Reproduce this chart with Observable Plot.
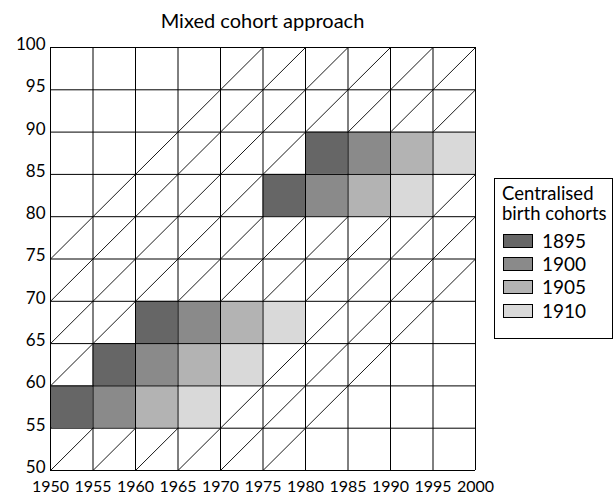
<!DOCTYPE html>
<html><head><meta charset="utf-8">
<script src="https://cdn.jsdelivr.net/npm/d3@7"></script>
<script src="https://cdn.jsdelivr.net/npm/@observablehq/plot@0.6"></script>
<style>
body{margin:0;background:#fff;font-family:Lato, "DejaVu Sans", sans-serif;color:#000;}
#wrap{position:relative;width:615px;height:494px;overflow:hidden;}
#wrap svg{position:absolute;left:0;top:0;}
#title{position:absolute;left:50px;width:425px;top:8px;text-align:center;font-size:20px;line-height:24px;}
#legend{position:absolute;left:494px;top:178px;width:119px;height:161px;border:1px solid #000;box-sizing:border-box;padding:4px 0 0 7px;font-size:18.5px;line-height:20px;white-space:nowrap;}
#legend .row{display:flex;align-items:center;height:23.3px;font-size:19px;}
#legend .sw{width:28px;height:12px;border:1px solid #000;margin:0 9px 0 1px;}
</style>
</head><body>
<div id="wrap">
  <div id="title">Mixed cohort approach</div>
  <div id="legend"><div>Centralised<br>birth cohorts</div><div id="rows" style="margin-top:6px"></div></div>
</div>
<script>
// Axis ticks
const xTicks = [1950, 1955, 1960, 1965, 1970, 1975, 1980, 1985, 1990, 1995, 2000];
const yTicks = [50, 55, 60, 65, 70, 75, 80, 85, 90, 95, 100];

// Cohort (diagonal) lines: birth year = period - age
const lineCohorts = [1875, 1880, 1885, 1890, 1895, 1900, 1905, 1910, 1915, 1920, 1925];

// Legend cohorts and their grey shades
const legendCohorts = [1895, 1900, 1905, 1910];
const legendColors = ["#666666", "#8a8a8a", "#b3b3b3", "#d9d9d9"];

// Shaded cells: lower-left period, lower age, centralised cohort
const cellPeriods = [1950, 1955, 1960, 1975, 1980,
                     1955, 1960, 1965, 1980, 1985,
                     1960, 1965, 1970, 1985, 1990,
                     1965, 1970, 1975, 1990, 1995];
const cellAges    = [55, 60, 65, 80, 85,
                     55, 60, 65, 80, 85,
                     55, 60, 65, 80, 85,
                     55, 60, 65, 80, 85];
const cellCohorts = [1895, 1895, 1895, 1895, 1895,
                     1900, 1900, 1900, 1900, 1900,
                     1905, 1905, 1905, 1905, 1905,
                     1910, 1910, 1910, 1910, 1910];

const cells = cellPeriods.map((p, i) => ({p, a: cellAges[i], c: cellCohorts[i]}));
const xMin = xTicks[0], xMax = xTicks[xTicks.length - 1];
const yMin = yTicks[0], yMax = yTicks[yTicks.length - 1];
const lines = lineCohorts.map(c => {
  const a0 = Math.max(yMin, xMin - c), a1 = Math.min(yMax, xMax - c);
  return {x1: c + a0, y1: a0, x2: c + a1, y2: a1};
});

const chart = Plot.plot({
  width: 615, height: 494,
  marginLeft: 50, marginRight: 140, marginTop: 47, marginBottom: 24,
  style: {fontFamily: "Lato, 'DejaVu Sans', sans-serif", fontSize: "16px", color: "#000", background: "transparent"},
  x: {domain: [xMin, xMax]},
  y: {domain: [yMin, yMax]},
  color: {domain: legendCohorts, range: legendColors},
  marks: [
    Plot.link(lines, {x1: "x1", y1: "y1", x2: "x2", y2: "y2", stroke: "#000", strokeWidth: 0.9}),
    Plot.rect(cells, {x1: "p", x2: d => d.p + 5, y1: "a", y2: d => d.a + 5, fill: "c"}),
    Plot.ruleX(xTicks, {y1: yMin, y2: yMax, stroke: "#000", strokeWidth: 1}),
    Plot.ruleY(yTicks, {x1: xMin, x2: xMax, stroke: "#000", strokeWidth: 1}),
    Plot.axisX(xTicks, {tickSize: 0, tickPadding: 10, tickFormat: d => String(d), fontSize: 16, label: null}),
    Plot.axisY(yTicks, {tickSize: 0, tickPadding: 5, tickFormat: d => String(d), fontSize: 17, dy: -3, label: null})
  ]
});
document.getElementById("wrap").prepend(chart);

const rows = document.getElementById("rows");
legendCohorts.forEach((c, i) => {
  const r = document.createElement("div");
  r.className = "row";
  r.innerHTML = `<span class="sw" style="background:${legendColors[i]}"></span><span>${c}</span>`;
  rows.appendChild(r);
});
</script>
</body></html>
